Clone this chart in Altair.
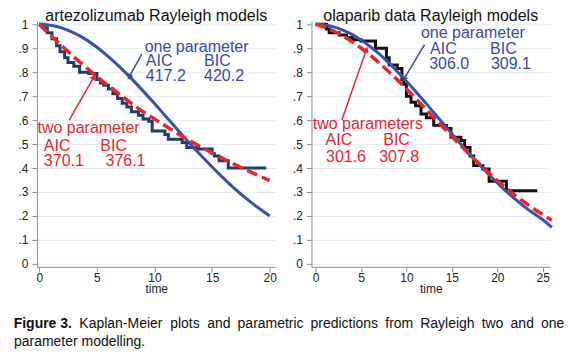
import math
import altair as alt
import pandas as pd

# ---------------- data ----------------
# Left panel: artezolizumab
L_km_t = [0, 0.4, 0.7, 1.1, 1.5, 1.8, 2.2, 2.5, 3.0, 3.5, 4.3, 5.0, 5.3, 5.6, 6.0, 6.4, 6.8,
          7.2, 7.6, 8.0, 8.6, 9.0, 9.5, 9.8, 10.9, 11.2, 12.4, 12.8, 13.8, 15.0, 15.2, 15.6, 16.4, 19.7]
L_km_s = [1.0, 0.985, 0.965, 0.94, 0.91, 0.885, 0.86, 0.84, 0.825, 0.80, 0.795, 0.77, 0.755, 0.745,
          0.73, 0.71, 0.69, 0.67, 0.655, 0.635, 0.62, 0.605, 0.595, 0.555, 0.54, 0.52, 0.507, 0.486,
          0.479, 0.46, 0.45, 0.43, 0.40, 0.40]
L_one_t = list(range(0, 21))
L_one_s = [1.0, 0.996, 0.984, 0.964, 0.938, 0.904, 0.865, 0.821, 0.773, 0.722, 0.669, 0.614, 0.560,
           0.506, 0.454, 0.404, 0.357, 0.312, 0.271, 0.234, 0.200]
L_two_t = list(range(0, 21))
L_two_s = [1.0, 0.953, 0.908, 0.864, 0.823, 0.782, 0.743, 0.706, 0.670, 0.635, 0.605, 0.574, 0.544,
           0.516, 0.489, 0.463, 0.438, 0.414, 0.391, 0.369, 0.348]

# Right panel: olaparib
R_km_t = [0, 1.2, 1.5, 2.6, 3.4, 4.1, 5.0, 6.6, 7.8, 8.1, 9.0, 9.5, 9.7, 10.0, 10.5, 11.0, 11.6,
          12.2, 13.0, 14.4, 14.9, 16.0, 16.4, 17.0, 17.4, 18.4, 19.1, 21.0, 24.4]
R_km_s = [1.0, 0.98, 0.965, 0.955, 0.945, 0.935, 0.93, 0.90, 0.86, 0.83, 0.815, 0.77, 0.75, 0.70,
          0.675, 0.66, 0.625, 0.61, 0.578, 0.565, 0.528, 0.515, 0.486, 0.45, 0.41, 0.396, 0.345,
          0.305, 0.305]
R_one_t = list(range(0, 27))
R_one_s = [1.0, 0.997, 0.989, 0.976, 0.958, 0.934, 0.907, 0.876, 0.841, 0.803, 0.762, 0.720, 0.677,
           0.632, 0.588, 0.543, 0.499, 0.456, 0.415, 0.375, 0.338, 0.302, 0.269, 0.238, 0.210,
           0.184, 0.152]
R_two_t = list(range(0, 27))
R_two_s = [1.0, 0.988, 0.972, 0.952, 0.928, 0.901, 0.871, 0.839, 0.804, 0.768, 0.730, 0.691, 0.651,
           0.611, 0.571, 0.532, 0.493, 0.455, 0.418, 0.382, 0.348, 0.316, 0.285, 0.257, 0.230,
           0.205, 0.182]

titles = ["artezolizumab Rayleigh models", "olaparib data Rayleigh models"]
y_ticks = [i / 10 for i in range(11)]
L_x_ticks = [0, 5, 10, 15, 20]
R_x_ticks = [0, 5, 10, 15, 20, 25]

# annotations: (t, s, text, colour-key)
L_ann = [(9.15, 0.885, "one parameter", "b"), (9.25, 0.826, "AIC", "b"), (14.3, 0.826, "BIC", "b"),
         (9.25, 0.764, "417.2", "b"), (14.3, 0.764, "420.2", "b"),
         (-0.15, 0.545, "two parameter", "r"), (0.4, 0.471, "AIC", "r"), (5.3, 0.471, "BIC", "r"),
         (0.4, 0.41, "370.1", "r"), (5.75, 0.41, "376.1", "r")]
R_ann = [(11.6, 0.942, "one parameter", "b"), (12.6, 0.875, "AIC", "b"), (19.2, 0.875, "BIC", "b"),
         (12.5, 0.815, "306.0", "b"), (19.3, 0.815, "309.1", "b"),
         (-0.3, 0.5625, "two parameters", "r"), (1.1, 0.497, "AIC", "r"), (7.45, 0.497, "BIC", "r"),
         (1.15, 0.424, "301.6", "r"), (7.0, 0.424, "307.8", "r")]
# arrows: (t_start, s_start, t_tip, s_tip, colour-key)
L_arr = [(8.9, 0.875, 7.8, 0.78, "b"), (2.6, 0.60, 4.75, 0.78, "r")]
R_arr = [(12.0, 0.915, 9.7, 0.77, "b"), (2.9, 0.60, 5.6, 0.895, "r")]

caption1_words = ["Figure 3.", "Kaplan-Meier", "plots", "and", "parametric", "predictions",
                  "from", "Rayleigh", "two", "and", "one"]
caption1_x = [11.7, 77.5, 168.5, 205.5, 236.0, 309.0, 384.0, 419.0, 480.5, 509.5, 540.0]
caption2 = "parameter modelling."

# ---------------- styling ----------------
FONT = "Liberation Sans, Arial, sans-serif"
BLUE = "#3b51a7"
RED = "#e8272d"
NAVY = "#1f3e68"
BLACK = "#111111"
TXT = {"b": "#3b4aa4", "r": "#e2282e"}
LINE = {"b": "#3b4aa4", "r": "#e2282e"}
W, H = 239, 246
YDOM = [-0.0125, 1.0125]
CAP_X0 = 35  # page x of the caption cell origin (aligned with the left plot)


def panel(title, xdom, xticks, km_t, km_s, km_col, one_t, one_s, two_t, two_s, ann, arrows):
    pxpt = W / (xdom[1] - xdom[0])
    pxps = H / (YDOM[1] - YDOM[0])
    xs = alt.Scale(domain=xdom, nice=False, zero=False)
    ys = alt.Scale(domain=YDOM, nice=False, zero=False)
    x = alt.X("t:Q", scale=xs, axis=alt.Axis(values=xticks, title="time", grid=False,
                                               tickSize=5, labelPadding=1, titlePadding=0,
                                               labelFontSize=12, titleFontSize=12,
                                               titleFontWeight="normal", labelFont=FONT,
                                               titleFont=FONT, domainColor="#8a9096",
                                               tickColor="#8a9096", labelColor="#222",
                                               titleColor="#222", labelFlush=False,
                                               labelOverlap=False))
    y = alt.Y("s:Q", scale=ys, axis=alt.Axis(values=y_ticks, title=None, grid=True,
                                               gridColor="#e4eaee", gridWidth=1,
                                               tickSize=5, labelPadding=4, labelFontSize=12,
                                               labelFont=FONT, labelColor="#222",
                                               domainColor="#8a9096", tickColor="#8a9096",
                                               minExtent=22, maxExtent=22, labelFlush=False,
                                               labelOverlap=False,
                                               labelExpr="datum.value == 0 ? '0' : datum.value > 0.99 ? '1' : substring(format(datum.value, '.1f'), 1)"))
    km = alt.Chart(pd.DataFrame({"t": km_t, "s": km_s})).mark_line(
        interpolate="step-after", color=km_col, strokeWidth=3).encode(x=x, y=y)
    one = alt.Chart(pd.DataFrame({"t": one_t, "s": one_s})).mark_line(
        interpolate="monotone", color=BLUE, strokeWidth=3).encode(x=x, y=y)
    two = alt.Chart(pd.DataFrame({"t": two_t, "s": two_s})).mark_line(
        interpolate="monotone", color=RED, strokeWidth=3.5, strokeDash=[11, 5]).encode(x=x, y=y)

    adf = pd.DataFrame(ann, columns=["t", "s", "label", "c"])
    adf["col"] = adf["c"].map(TXT)
    text = alt.Chart(adf).mark_text(align="left", baseline="alphabetic", fontSize=16,
                                    font=FONT).encode(
        x=x, y=y, text="label:N", color=alt.Color("col:N", scale=None))

    shafts, heads = [], []
    for (t0, s0, t1, s1, c) in arrows:
        dx = (t1 - t0) * pxpt
        dy = -(s1 - s0) * pxps
        ang = (math.degrees(math.atan2(dx, -dy)) + 360) % 360
        shafts.append({"t": t0, "s": s0, "t2": t1, "s2": s1, "col": LINE[c]})
        heads.append({"t": t1, "s": s1, "col": LINE[c], "ang": ang})
    shaft = alt.Chart(pd.DataFrame(shafts)).mark_rule(strokeWidth=1.5).encode(
        x=x, y=y, x2="t2:Q", y2="s2:Q", color=alt.Color("col:N", scale=None))
    head = alt.Chart(pd.DataFrame(heads)).mark_point(shape="triangle-up", filled=True, size=45,
                                                     opacity=1).encode(
        x=x, y=y, color=alt.Color("col:N", scale=None), angle=alt.Angle("ang:Q", scale=None))

    return alt.layer(km, one, two, shaft, head, text).properties(
        width=W, height=H,
        title=alt.TitleParams(title, fontSize=16, font=FONT, fontWeight="normal",
                              color="#111", offset=-7, anchor="middle"))


left = panel(titles[0], [-0.2, 20.5], L_x_ticks, L_km_t, L_km_s, NAVY,
             L_one_t, L_one_s, L_two_t, L_two_s, L_ann, L_arr)
right = panel(titles[1], [-0.45, 25.8], R_x_ticks, R_km_t, R_km_s, BLACK,
              R_one_t, R_one_s, R_two_t, R_two_s, R_ann, R_arr)

top = alt.hconcat(left, right, spacing=12)

cap_rows = [{"x": xx - CAP_X0, "y": 13, "w": "bold" if i == 0 else "normal", "label": wd}
            for i, (wd, xx) in enumerate(zip(caption1_words, caption1_x))]
cap_rows.append({"x": 12 - CAP_X0, "y": 31, "w": "normal", "label": caption2})
cdf = pd.DataFrame(cap_rows)
cap_bold = alt.Chart(cdf[cdf.w == "bold"]).mark_text(
    align="left", baseline="alphabetic", fontSize=14, font=FONT, fontWeight="bold", color="#111").encode(
    x=alt.X("x:Q", scale=None), y=alt.Y("y:Q", scale=None), text="label:N")
cap_norm = alt.Chart(cdf[cdf.w == "normal"]).mark_text(
    align="left", baseline="alphabetic", fontSize=14, font=FONT, color="#111").encode(
    x=alt.X("x:Q", scale=None), y=alt.Y("y:Q", scale=None), text="label:N")
caption = alt.layer(cap_bold, cap_norm).properties(width=480, height=34)

chart = alt.vconcat(top, caption, spacing=20).properties(
    padding={"left": 5, "top": 0, "right": 0, "bottom": 0}
).configure_view(strokeWidth=0)

chart.save("out.html", embed_options={"renderer": "svg", "actions": False})
